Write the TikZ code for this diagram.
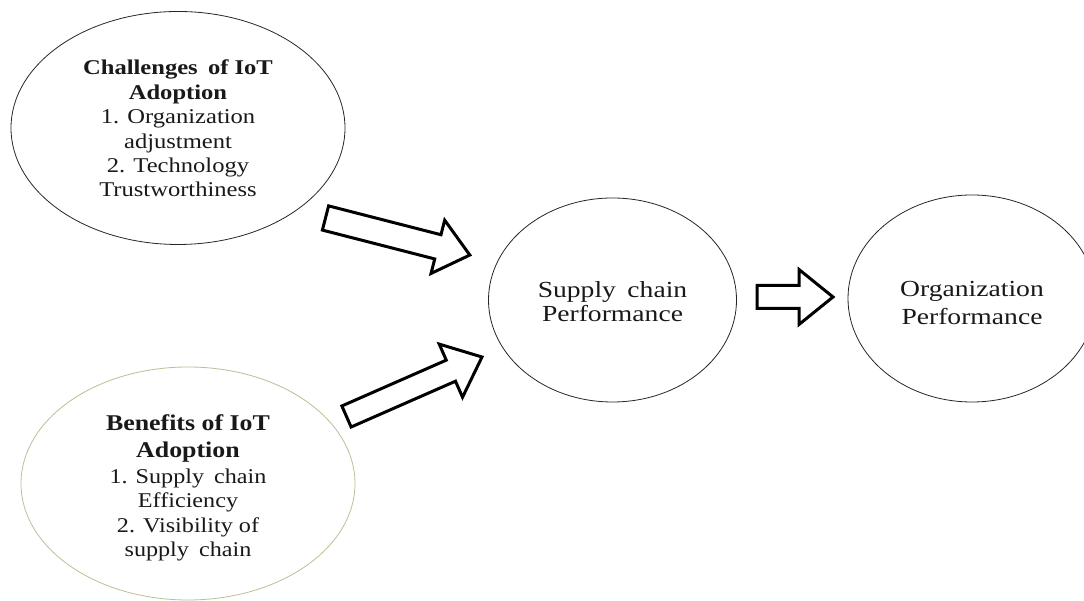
\documentclass[tikz,border=0pt]{standalone}
\usepackage{fontspec}
\setmainfont{Liberation Serif}
\usepackage{graphicx}
\usetikzlibrary{shapes.geometric}
\definecolor{olivebd}{RGB}{190,190,150}
\definecolor{inkc}{RGB}{25,25,25}
\tikzset{
  bubble/.style={ellipse, draw=black!85, line width=0.8pt, inner sep=0pt, text=inkc},
  bigbubble/.style={bubble, minimum width=334pt, minimum height=233pt},
  circbubble/.style={bubble, minimum width=248pt, minimum height=204pt},
  blockarr/.style={draw=black, line width=3pt, line join=miter, fill=white},
}
% #1 horizontal stretch, #2 downward shift (pt), #3 lines
\newcommand{\stretchtxt}[3]{\raisebox{0pt}[\dimexpr\height+#2pt+#2pt\relax][\depth]{\scalebox{#1}[1]{\begin{tabular}{@{}c@{}}#3\end{tabular}}}}
\newcommand{\bigbold}[1]{{\fontsize{22.5}{27}\selectfont\bfseries #1}}
\begin{document}
\begin{tikzpicture}[x=1pt,y=1pt]
\clip (0,0) rectangle (1084,601);
\fill[white] (0,0) rectangle (1084,601);

\node[bigbubble] (chal) at (178,473) {\fontsize{21}{24.4}\selectfont\stretchtxt{1.17}{3}{%
  \textbf{Challenges\, of IoT}\\ \textbf{Adoption}\\ 1. Organization\\ adjustment\\ 2. Technology\\ Trustworthiness}};

\node[bigbubble, draw=olivebd] (bene) at (188,117.5) {\fontsize{21}{24.4}\selectfont\stretchtxt{1.15}{5}{%
  \bigbold{Benefits of IoT}\\[2.5pt] \bigbold{Adoption}\\[2pt] 1. Supply\, chain\\ Efficiency\\ 2. Visibility of\\ supply\, chain}};

\node[circbubble] (scp) at (612.5,301) {\fontsize{23}{24}\selectfont\stretchtxt{1.2}{5}{Supply\, chain\\ Performance}};

\node[circbubble, minimum height=207pt] (orgp) at (972,302.5) {\fontsize{23}{27}\selectfont\stretchtxt{1.2}{7}{Organization\\[1pt] Performance}};

% block arrows
\coordinate (a1) at (325.5,383);
\begin{scope}[shift={(a1)}, rotate=-14.4]
  \draw[blockarr] (0,-12.5) -- (116,-12.5) -- (116,-27.5) -- (149,0) -- (116,27.5) -- (116,12.5) -- (0,12.5) -- cycle;
\end{scope}

\coordinate (a2) at (346.5,184.5);
\begin{scope}[shift={(a2)}, rotate=23.7]
  \draw[blockarr] (0,-11.5) -- (114,-11.5) -- (114,-29) -- (148,0) -- (114,29) -- (114,11.5) -- (0,11.5) -- cycle;
\end{scope}

\coordinate (a3) at (757,304);
\begin{scope}[shift={(a3)}]
  \draw[blockarr] (0,-11.5) -- (42,-11.5) -- (42,-27.5) -- (76,0) -- (42,27.5) -- (42,11.5) -- (0,11.5) -- cycle;
\end{scope}
\end{tikzpicture}
\end{document}
